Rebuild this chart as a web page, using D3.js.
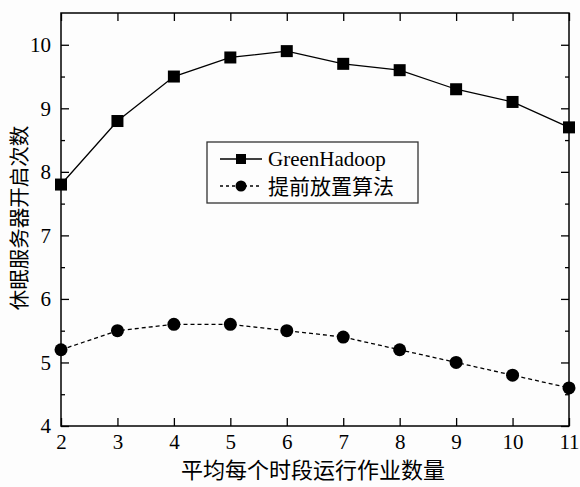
<!DOCTYPE html>
<html><head><meta charset="utf-8">
<script src="https://cdn.jsdelivr.net/npm/d3@7"></script>
<style>body{margin:0;background:#fdfdfd}</style>
</head><body>
<svg id="c" width="580" height="487"></svg>
<script>
const categories = [2,3,4,5,6,7,8,9,10,11];
const greenHadoop = [7.8,8.8,9.5,9.8,9.9,9.7,9.6,9.3,9.1,8.7];
const advance = [5.2,5.5,5.6,5.6,5.5,5.4,5.2,5.0,4.8,4.6];
const yTicks = [4,5,6,7,8,9,10];
const seriesNames = ["GreenHadoop","提前放置算法"];
const xTitle = "平均每个时段运行作业数量";
const yTitle = "休眠服务器开启次数";

const svg = d3.select("#c");
const L=61,R=569,T=13,B=426;
const x = d3.scaleLinear().domain([2,11]).range([L,R]);
const y = d3.scaleLinear().domain([4,10.5]).range([B,T]);
const serif = "'Liberation Serif','Times New Roman',serif";
const cjk = "'Noto Sans CJK SC',sans-serif";

svg.append("rect").attr("x",L).attr("y",T).attr("width",R-L).attr("height",B-T)
  .attr("fill","none").attr("stroke","#000").attr("stroke-width",1.5);

const minorY = d3.range(4.5,10.5,1);
const gl = svg.append("g").attr("transform",`translate(${L},0)`)
  .call(d3.axisLeft(y).tickValues(yTicks).tickSize(-8).tickPadding(10).tickFormat(d3.format("d")));
const glm = svg.append("g").attr("transform",`translate(${L},0)`)
  .call(d3.axisLeft(y).tickValues(minorY).tickSize(-4).tickFormat(""));
const gr = svg.append("g").attr("transform",`translate(${R},0)`)
  .call(d3.axisRight(y).tickValues(yTicks).tickSize(-8).tickFormat(""));
const grm = svg.append("g").attr("transform",`translate(${R},0)`)
  .call(d3.axisRight(y).tickValues(minorY).tickSize(-4).tickFormat(""));
const gb = svg.append("g").attr("transform",`translate(0,${B})`)
  .call(d3.axisBottom(x).tickValues(categories).tickSize(-8).tickPadding(8).tickFormat(d3.format("d")));
const gt = svg.append("g").attr("transform",`translate(0,${T})`)
  .call(d3.axisTop(x).tickValues(categories).tickSize(-8).tickFormat(""));
[gl,glm,gr,grm,gb,gt].forEach(g=>{
  g.select(".domain").remove();
  g.selectAll("line").attr("stroke","#000").attr("stroke-width",1.3);
  g.selectAll("text").attr("font-family",serif).attr("font-size",21).attr("fill","#000");
});

const line = d3.line().x((d,i)=>x(categories[i])).y(d=>y(d));
svg.append("path").datum(greenHadoop).attr("d",line).attr("fill","none").attr("stroke","#000").attr("stroke-width",1.3);
svg.append("path").datum(advance).attr("d",line).attr("fill","none").attr("stroke","#000").attr("stroke-width",1.3).attr("stroke-dasharray","4,3");
svg.selectAll("rect.m").data(greenHadoop).enter().append("rect").attr("class","m")
  .attr("x",(d,i)=>x(categories[i])-6).attr("y",d=>y(d)-6).attr("width",12).attr("height",12).attr("fill","#000");
svg.selectAll("circle.m").data(advance).enter().append("circle").attr("class","m")
  .attr("cx",(d,i)=>x(categories[i])).attr("cy",d=>y(d)).attr("r",6.5).attr("fill","#000");

const lg = svg.append("g");
lg.append("rect").attr("x",207).attr("y",142).attr("width",211).attr("height",61)
  .attr("fill","#fdfdfd").attr("stroke","#333").attr("stroke-width",1.3);
lg.append("line").attr("x1",220).attr("x2",262).attr("y1",159).attr("y2",159).attr("stroke","#000").attr("stroke-width",1.3);
lg.append("rect").attr("x",236).attr("y",154).attr("width",10).attr("height",10).attr("fill","#000");
lg.append("text").attr("x",268).attr("y",166).text(seriesNames[0]).attr("font-family",serif).attr("font-size",21);
lg.append("line").attr("x1",220).attr("x2",262).attr("y1",186).attr("y2",186).attr("stroke","#000").attr("stroke-width",1.3).attr("stroke-dasharray","3,3");
lg.append("circle").attr("cx",241).attr("cy",186).attr("r",5.5).attr("fill","#000");
lg.append("text").attr("x",268).attr("y",194).text(seriesNames[1]).attr("font-family",cjk).attr("font-size",21);

svg.append("text").attr("x",313).attr("y",478).attr("text-anchor","middle")
  .attr("font-family",cjk).attr("font-size",22).text(xTitle);
svg.append("text").attr("transform",`translate(27,218) rotate(-90)`).attr("text-anchor","middle")
  .attr("font-family",cjk).attr("font-size",20.5).text(yTitle);
</script>
</body></html>
